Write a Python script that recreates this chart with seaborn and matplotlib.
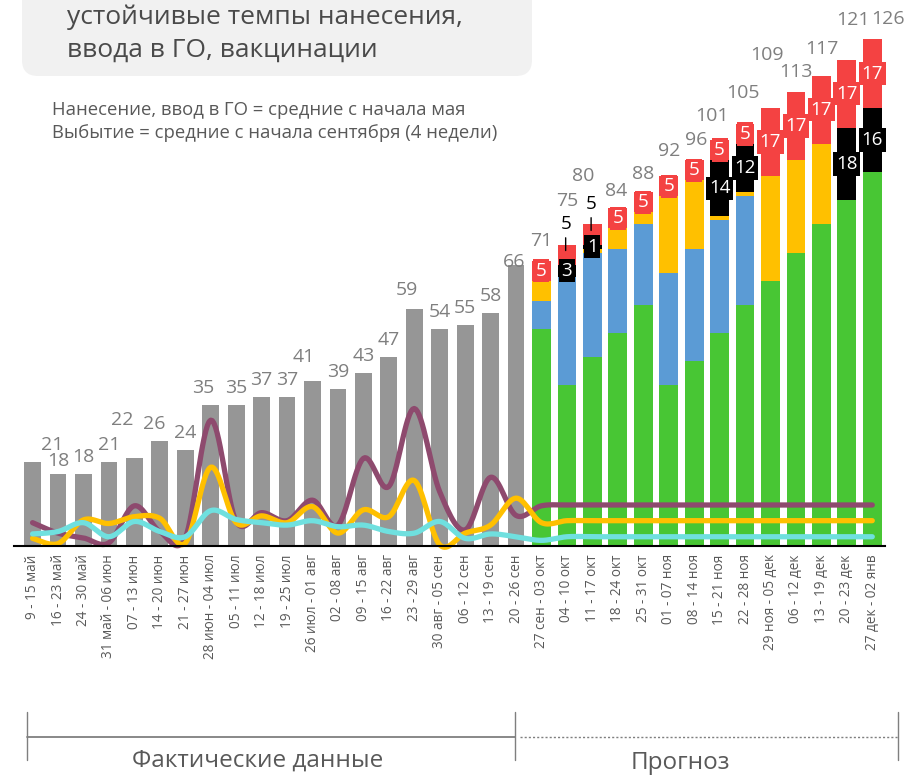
import numpy as np
import pandas as pd
import seaborn as sns
import matplotlib.pyplot as plt
from matplotlib.patches import FancyBboxPatch
from matplotlib.lines import Line2D

sns.set_style("white")
plt.rcParams['font.family'] = ['Open Sans', 'DejaVu Sans']

# Weeks: actual data then forecast
weeks_fact = ["9 - 15 май", "16 - 23 май", "24 - 30 май", "31 май - 06 июн", "07 - 13 июн",
              "14 - 20 июн", "21 - 27 июн", "28 июн - 04 июл", "05 - 11 июл", "12 - 18 июл",
              "19 - 25 июл", "26 июл - 01 авг", "02 - 08 авг", "09 - 15 авг", "16 - 22 авг",
              "23 - 29 авг", "30 авг - 05 сен", "06 - 12 сен", "13 - 19 сен", "20 - 26 сен"]
weeks_fc = ["27 сен - 03 окт", "04 - 10 окт", "11 - 17 окт", "18 - 24 окт", "25 - 31 окт",
            "01 - 07 ноя", "08 - 14 ноя", "15 - 21 ноя", "22 - 28 ноя", "29 ноя - 05 дек",
            "06 - 12 дек", "13 - 19 дек", "20 - 23 дек", "27 дек - 02 янв"]
weeks = weeks_fact + weeks_fc

# Actual bars (heights as drawn, labels as printed)
fact_height = [21, 18, 18, 21, 22, 26, 24, 35, 35, 37, 37, 41, 39, 43, 47, 59, 54, 55, 58, 70]
fact_label = [21, 18, 18, 21, 22, 26, 24, 35, 35, 37, 37, 41, 39, 43, 47, 59, 54, 55, 58, 66]

# Forecast stacked segments
fc_green = [54, 40, 47, 53, 60, 40, 46, 53, 60, 66, 73, 80, 86, 93]
fc_blue = [7, 27, 26, 21, 20, 28, 28, 28, 27, 0, 0, 0, 0, 0]
fc_yellow = [5, 0, 1, 5, 3, 19, 17, 1, 1, 26, 23, 20, 0, 0]
fc_black = [0, 3, 1, 0, 0, 0, 0, 14, 12, 0, 0, 0, 18, 16]
fc_red = [5, 5, 5, 5, 5, 5, 5, 5, 5, 17, 17, 17, 17, 17]
fc_total = [71, 75, 80, 84, 88, 92, 96, 101, 105, 109, 113, 117, 121, 126]

# Lines (one point per week)
line_purple = [5.8, 3.2, 2.0, 0.8, 10.0, 3.6, 2.0, 31.3, 6.1, 8.3, 6.3, 11.4, 5.2, 21.8, 14.8,
               34.2, 13.5, 4.0, 17.1, 7.6,
               10.0, 10.2, 10.2, 10.2, 10.2, 10.2, 10.2, 10.2, 10.2, 10.2, 10.2, 10.2, 10.2, 10.2]
line_yellow = [1.9, 0.6, 6.5, 5.6, 7.3, 6.9, 0.7, 19.6, 5.8, 7.5, 5.8, 9.8, 3.2, 9.0, 7.3,
               16.3, 0.3, 3.2, 5.2, 11.9,
               5.8, 6.3, 6.3, 6.3, 6.3, 6.3, 6.3, 6.3, 6.3, 6.3, 6.3, 6.3, 6.3, 6.3]
line_cyan = [3.0, 3.6, 5.8, 2.3, 6.1, 3.6, 2.3, 8.8, 6.6, 5.8, 5.2, 6.3, 4.8, 5.2, 3.6,
             3.2, 6.1, 1.9, 3.0, 2.3,
             1.4, 2.3, 2.3, 2.3, 2.3, 2.3, 2.3, 2.3, 2.3, 2.3, 2.3, 2.3, 2.3, 2.3]

# label nudges in pixels (dx, dy up)
fact_nudge = {0: (20, 0), 1: (0, -4), 4: (-12, 21), 5: (-6, 0), 7: (-8, 0),
              11: (-9, 7), 15: (-7, 2), 19: (-2, -14)}
fc_lift = [20, 44, 48, 17, 18, 25, 20, 24, 31, 53, 20, 27, 40, 20]
fc_dx = [0, 0, -9, -2, 0, 0, 2, -8, -2, -4, 0, 0, 6, 16]
red_outside = [1, 2]

GRAY = "#969696"
GREEN = "#48C634"
BLUE = "#5B9BD5"
YELLOW = "#FFC000"
RED = "#F44242"
LABEL = "#7F7F7F"


def smooth(y, steps=16):
    # Catmull-Rom curve through the weekly points
    y = np.asarray(y, float)
    x = np.arange(len(y), dtype=float)
    p = np.r_[y[0], y, y[-1]]
    q = np.r_[x[0], x, x[-1]]
    t = np.linspace(0, 1, steps, endpoint=False)
    xs, ys = [], []
    for i in range(len(y) - 1):
        for arr, out in ((q, xs), (p, ys)):
            p0, p1, p2, p3 = arr[i:i + 4]
            out.append(0.5 * (2 * p1 + (p2 - p0) * t + (2 * p0 - 5 * p1 + 4 * p2 - p3) * t ** 2
                              + (3 * p1 - p0 - 3 * p2 + p3) * t ** 3))
    xs.append([x[-1]])
    ys.append([y[-1]])
    return np.concatenate(xs), np.concatenate(ys)


fig = plt.figure(figsize=(9.09, 7.75), dpi=100)
ax = fig.add_axes([14 / 909, 1 - 546 / 775, 871 / 909, 130 * 4.02 / 775])
ax.patch.set_visible(False)

# Actual bars
df_fact = pd.DataFrame({"week": weeks_fact, "value": fact_height})
sns.barplot(data=df_fact, x="week", y="value", order=weeks, color=GRAY, width=0.66,
            saturation=1, errorbar=None, linewidth=0, ax=ax)

# Forecast stacked bars (drawn from the top down)
fc = pd.DataFrame({"week": weeks_fc, "green": fc_green, "blue": fc_blue, "yellow": fc_yellow,
                   "black": fc_black, "red": fc_red})
stack = ["green", "blue", "yellow", "black", "red"]
colors = {"green": GREEN, "blue": BLUE, "yellow": YELLOW, "black": "black", "red": RED}
for k in range(len(stack) - 1, -1, -1):
    seg = stack[k]
    part = fc[fc[seg] > 0].copy()
    part["top"] = part[stack[:k + 1]].sum(axis=1)
    sns.barplot(data=part, x="week", y="top", order=weeks, color=colors[seg], width=0.74,
                saturation=1, errorbar=None, linewidth=0, ax=ax)

# Smoothed lines
for vals, col in ((line_purple, "#8E4A6E"), (line_yellow, YELLOW), (line_cyan, "#6FE0DF")):
    xs, ys = smooth(vals)
    ax.plot(xs, ys, color=col, lw=3.8, solid_capstyle="round", zorder=4, clip_on=False)

# Labels on actual bars
for i, (h, lab) in enumerate(zip(fact_height, fact_label)):
    dx, dy = fact_nudge.get(i, (0, 0))
    ax.annotate(str(lab), (i, h), xytext=(dx * 0.72, (17 + dy) * 0.72), textcoords="offset points",
                ha="center", va="center", fontsize=14, color=LABEL, zorder=6)

# Labels on forecast bars
n0 = len(weeks_fact)
for j in range(len(weeks_fc)):
    pos = n0 + j
    ax.annotate(str(fc_total[j]), (pos, fc_total[j]), xytext=(fc_dx[j] * 0.72, fc_lift[j] * 0.72),
                textcoords="offset points", ha="center", va="center", fontsize=14,
                color=LABEL, zorder=6)
    base = fc_green[j] + fc_blue[j] + fc_yellow[j]
    if fc_black[j] > 0:
        ax.text(pos, base + fc_black[j] / 2, str(fc_black[j]), ha="center", va="center",
                fontsize=13.5, color="white", zorder=7,
                bbox=dict(boxstyle="square,pad=0.14", fc="black", ec="none"))
    base += fc_black[j]
    if j in red_outside:
        ax.annotate(str(fc_red[j]), (pos - 0.05, base + 3.5), xytext=(0, 19),
                    textcoords="offset points", ha="center", va="center", fontsize=13.5,
                    color="black", zorder=7,
                    arrowprops=dict(arrowstyle="-", color="black", lw=1, shrinkA=1, shrinkB=0))
    else:
        ax.text(pos, base + fc_red[j] / 2, str(fc_red[j]), ha="center", va="center",
                fontsize=13.5, color="white", zorder=7,
                bbox=dict(boxstyle="square,pad=0.14", fc=RED, ec="none"))

ax.set_xlim(-0.73, 33.5)
ax.set_ylim(0, 130)
ax.set_xticks(range(len(weeks)))
ax.set_xticklabels(weeks)
ax.tick_params(axis="x", length=0, pad=6, labelsize=9.8, labelcolor="#595959", rotation=90)
ax.set_yticks([])
ax.set_xlabel("")
ax.set_ylabel("")
for s in ["left", "right", "top"]:
    ax.spines[s].set_visible(False)
ax.spines["bottom"].set_color("black")
ax.spines["bottom"].set_linewidth(1.5)
ax.spines["bottom"].set_zorder(5)

# Title box (upper part cut off)
H = 7.75
tr = fig.dpi_scale_trans
box = FancyBboxPatch((0.22, H - 0.76), 5.10, 1.2, boxstyle="round,pad=0,rounding_size=0.16",
                     transform=tr, fc="#F1F1F1", ec="none", zorder=0)
fig.add_artist(box)
fig.text(0.67, H - 0.17, "устойчивые темпы нанесения,", transform=tr, fontsize=19,
         color="#4A4A4A", va="center", ha="left")
fig.text(0.67, H - 0.50, "ввода в ГО, вакцинации", transform=tr, fontsize=19,
         color="#4A4A4A", va="center", ha="left")

fig.text(0.52, H - 1.10, "Нанесение, ввод в ГО = средние с начала мая", transform=tr,
         fontsize=13.3, color="#595959", va="center", ha="left")
fig.text(0.52, H - 1.33, "Выбытие = средние с начала сентября (4 недели)", transform=tr,
         fontsize=13.3, color="#595959", va="center", ha="left")

# Bottom brackets
yb = H - 7.37
fig.add_artist(Line2D([0.27, 5.15], [yb, yb], transform=tr, color="#7F7F7F", lw=1.3))
fig.add_artist(Line2D([5.20, 8.98], [yb, yb], transform=tr, color="#7F7F7F", lw=1,
                      linestyle=(0, (1.5, 1.5))))
for xb in (0.27, 5.15, 8.98):
    fig.add_artist(Line2D([xb, xb], [H - 7.12, H - 7.60], transform=tr, color="#7F7F7F", lw=1))
fig.text(2.58, H - 7.61, "Фактические данные", transform=tr, fontsize=17.5, color="#595959",
         ha="center", va="center")
fig.text(6.80, H - 7.63, "Прогноз", transform=tr, fontsize=17.5, color="#595959",
         ha="center", va="center")

fig.savefig("out.png", dpi=100)
